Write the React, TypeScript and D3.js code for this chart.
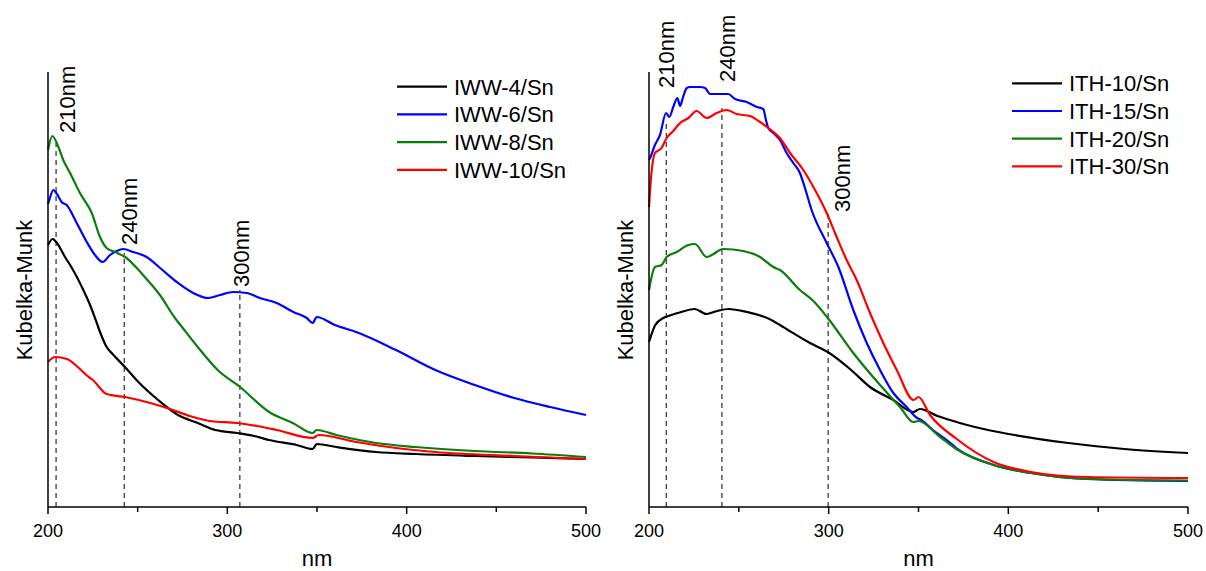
import React from "react";
import * as d3 from "d3";

// ---------- data (x: wavelength in nm, y: Kubelka-Munk, arbitrary units) ----------
const xTicks = [200, 300, 400, 500];
const xMinorTicks = [250, 350, 450];
const xDomain: [number, number] = [200, 500];
const yDomain: [number, number] = [0, 435];

const leftNames = ["IWW-4/Sn", "IWW-6/Sn", "IWW-8/Sn", "IWW-10/Sn"];
const rightNames = ["ITH-10/Sn", "ITH-15/Sn", "ITH-20/Sn", "ITH-30/Sn"];
const seriesColors = ["#000000", "#0000ff", "#0a7d0a", "#ff0000"];

const iww4: [number, number][] = [
  [200, 262], [202.6, 268], [205, 264], [209.5, 250], [213, 240], [219.7, 217], [223, 204],
  [226, 190], [229, 175], [232.7, 160], [236, 153], [242.9, 140], [250.4, 125], [261.4, 107],
  [272.5, 92], [283.5, 84], [293.4, 77], [305.6, 74], [315, 71], [323.3, 67], [338.7, 62],
  [347.6, 58], [349.8, 63], [360.8, 60], [382.9, 55], [405, 53], [438, 51], [470, 49.5], [500, 48],
];
const iww6: [number, number][] = [
  [200, 303], [200.7, 307], [203, 317], [205, 313], [207.6, 305], [210.4, 302], [216, 284],
  [221.6, 265], [226.2, 252], [230.5, 245], [234.6, 252], [238.3, 256], [242, 258], [247.6, 255],
  [255, 250], [262.5, 239], [271.8, 225], [281, 214], [289.4, 209], [295.9, 212], [303.3, 215],
  [310.8, 214], [318.2, 209], [327.5, 204], [336.8, 195], [344.3, 189], [347.6, 184], [349.8, 190],
  [360, 182], [371.9, 175], [394, 157], [416, 137], [438, 122], [460, 109], [480, 100], [500, 92],
];
const iww8: [number, number][] = [
  [200, 357], [202.4, 371], [205.8, 360], [208.5, 347], [212.3, 334], [217.8, 314], [224.4, 294],
  [229, 270], [232.7, 259], [237.4, 255], [243, 250], [253, 232], [262.4, 212], [270.8, 189],
  [274.7, 180], [283.5, 160], [294.6, 137], [307.1, 120], [323.3, 95], [336.5, 84], [347.6, 74],
  [349.8, 77], [360.8, 72], [382.9, 64], [405, 60], [438, 56], [470, 53.5], [500, 50],
];
const iww10: [number, number][] = [
  [200, 145], [204, 150], [210.6, 148], [217.2, 139], [222, 131], [225, 127], [232.7, 113],
  [242.9, 110], [257, 104], [268, 98], [279, 91], [290, 86], [305.6, 84], [316.6, 81], [327.6, 77],
  [347.6, 69], [350.9, 72], [371.9, 65], [394, 59], [416, 55], [460, 51], [500, 48],
];

const ith10: [number, number][] = [
  [200, 165], [203.5, 182], [208, 189], [210.8, 191], [218, 195], [225.4, 198], [232, 193],
  [237.9, 196], [244.1, 198], [254.5, 195], [267, 188], [272.9, 182], [277.4, 177], [289.6, 164],
  [299.5, 155], [311.9, 138], [323, 120], [336, 107], [347.1, 95], [350.8, 98], [360.6, 91],
  [373, 84], [381.4, 80], [400.1, 73], [433.4, 64], [464.6, 58], [500, 54],
];
const ith15: [number, number][] = [
  [200, 347], [200.6, 349], [203.3, 362], [206.1, 372], [209.5, 394], [211.3, 390], [213.5, 400],
  [215.8, 409], [217.3, 401], [218.8, 409], [221, 419], [222.8, 420], [228.4, 420], [231.2, 419],
  [234, 413], [244.1, 413], [247.9, 408], [254.4, 405], [260, 400], [263.6, 398], [265.1, 387],
  [266.4, 379], [269.2, 374], [272.9, 367], [276.6, 354], [280.3, 344], [284, 334], [286.8, 319],
  [290.5, 297], [298.9, 264], [305.4, 240], [313.7, 197], [321.2, 164], [328.6, 137], [336, 114],
  [343.4, 100], [349.2, 89], [351.5, 87], [358, 77], [365.7, 67], [371, 59], [391.8, 42],
  [412.6, 34], [443.8, 28], [500, 26],
];
const ith20: [number, number][] = [
  [200, 217], [203.3, 240], [207.1, 242], [209.8, 250], [215.4, 255], [221.9, 262], [225.6, 263],
  [232.1, 250], [241.4, 258], [252.5, 256], [261.8, 250], [269.2, 240], [272.9, 237], [284, 217],
  [291.5, 206], [299.5, 189], [313.7, 154], [328.6, 122], [339.7, 100], [347.1, 85], [349.9, 86],
  [362, 70], [371, 58], [391.8, 42], [412.6, 34], [443.8, 28], [500, 26.5],
];
const ith30: [number, number][] = [
  [200, 300], [200.6, 317], [203.3, 354], [207, 359], [209.8, 369], [213.5, 376], [217.3, 384],
  [221.9, 389], [226.5, 396], [232.1, 389], [237.7, 394], [243.2, 397], [248.8, 393], [256.2, 391],
  [261.8, 385], [266.4, 379], [272.9, 369], [278.5, 354], [285.9, 337], [291.5, 320], [298.9, 294],
  [304, 272], [310, 247], [315.6, 227], [323, 194], [330.4, 164], [337.9, 137], [347.3, 107],
  [350, 110], [356.4, 92], [371.3, 68], [391.8, 45], [412.6, 35], [443.8, 30], [500, 29],
];

// reference lines: wavelength of the dashed line, its top (y units), label, label anchor (nm, y units)
const leftMarkNm = [204.5, 242.5, 307];
const leftMarkTop = [364, 254, 217];
const leftMarkLabels = ["210nm", "240nm", "300nm"];
const leftLabelAnchor: [number, number][] = [[215.1, 374], [249.6, 262], [312.1, 220]];

const rightMarkNm = [209.6, 240.6, 299.7];
const rightMarkTop = [387, 399, 294];
const rightMarkLabels = ["210nm", "240nm", "300nm"];
const rightLabelAnchor: [number, number][] = [[213.9, 419], [247.9, 425], [311.9, 295]];

// ---------- layout ----------
const W = 1206;
const H = 571;
const FONT = "'Liberation Sans', Arial, Helvetica, sans-serif";

type PanelProps = {
  x0: number;
  x1: number;
  names: string[];
  data: [number, number][][];
  markNm: number[];
  markTop: number[];
  markLabels: string[];
  labelAnchor: [number, number][];
  legendX: number;
  legendY: number;
};

function Panel(p: PanelProps) {
  const yTop = 72;
  const yBottom = 507;
  const x = d3.scaleLinear().domain(xDomain).range([p.x0, p.x1]);
  const y = d3.scaleLinear().domain(yDomain).range([yBottom, yTop]);
  const line = d3
    .line<[number, number]>()
    .x((d) => x(d[0]))
    .y((d) => y(d[1]))
    .curve(d3.curveMonotoneX);
  const cx = (p.x0 + p.x1) / 2;
  const rowH = 27.7;
  return (
    <g>
      {p.markNm.map((nm, i) => (
        <line
          key={"m" + i}
          x1={x(nm)}
          x2={x(nm)}
          y1={yBottom}
          y2={y(p.markTop[i])}
          stroke="#000"
          strokeWidth={1}
          strokeDasharray="5,4"
        />
      ))}
      {p.markLabels.map((t, i) => (
        <text
          key={"ml" + i}
          transform={`translate(${x(p.labelAnchor[i][0])},${y(p.labelAnchor[i][1])}) rotate(-90)`}
          fontFamily={FONT}
          fontSize={22}
          fill="#000"
        >
          {t}
        </text>
      ))}
      {p.data.map((d, i) => (
        <path
          key={"s" + i}
          d={line(d) || ""}
          fill="none"
          stroke={seriesColors[i]}
          strokeWidth={2.2}
          strokeLinejoin="round"
        />
      ))}
      <line x1={p.x0} x2={p.x0} y1={yTop} y2={yBottom} stroke="#000" strokeWidth={1.5} />
      <line x1={p.x0} x2={p.x1} y1={yBottom} y2={yBottom} stroke="#000" strokeWidth={1.5} />
      {xTicks.map((t) => (
        <g key={"t" + t}>
          <line x1={x(t)} x2={x(t)} y1={yBottom} y2={yBottom + 7} stroke="#000" strokeWidth={1.5} />
          <text x={x(t)} y={537} textAnchor="middle" fontFamily={FONT} fontSize={18} fill="#000">
            {t}
          </text>
        </g>
      ))}
      {xMinorTicks.map((t) => (
        <line key={"mt" + t} x1={x(t)} x2={x(t)} y1={yBottom} y2={yBottom + 5} stroke="#000" strokeWidth={1.5} />
      ))}
      <text x={cx} y={566} textAnchor="middle" fontFamily={FONT} fontSize={22} fill="#000">
        nm
      </text>
      <text
        transform={`translate(${p.x0 - 16},290) rotate(-90)`}
        textAnchor="middle"
        fontFamily={FONT}
        fontSize={22}
        fill="#000"
      >
        Kubelka-Munk
      </text>
      {p.names.map((n, i) => (
        <g key={"l" + i}>
          <line
            x1={p.legendX}
            x2={p.legendX + 50}
            y1={p.legendY + i * rowH}
            y2={p.legendY + i * rowH}
            stroke={seriesColors[i]}
            strokeWidth={2.2}
          />
          <text x={p.legendX + 57} y={p.legendY + i * rowH + 8} fontFamily={FONT} fontSize={22} fill="#000">
            {n}
          </text>
        </g>
      ))}
    </g>
  );
}

export default function App() {
  return (
    <svg
      width={W}
      height={H}
      viewBox={`0 0 ${W} ${H}`}
      style={{ position: "absolute", left: 0, top: 0, background: "#fff" }}
    >
      <rect width={W} height={H} fill="#fff" />
      <Panel
        x0={48}
        x1={586}
        names={leftNames}
        data={[iww4, iww6, iww8, iww10]}
        markNm={leftMarkNm}
        markTop={leftMarkTop}
        markLabels={leftMarkLabels}
        labelAnchor={leftLabelAnchor}
        legendX={397}
        legendY={86.7}
      />
      <Panel
        x0={649}
        x1={1188}
        names={rightNames}
        data={[ith10, ith15, ith20, ith30]}
        markNm={rightMarkNm}
        markTop={rightMarkTop}
        markLabels={rightMarkLabels}
        labelAnchor={rightLabelAnchor}
        legendX={1012}
        legendY={83.3}
      />
    </svg>
  );
}
